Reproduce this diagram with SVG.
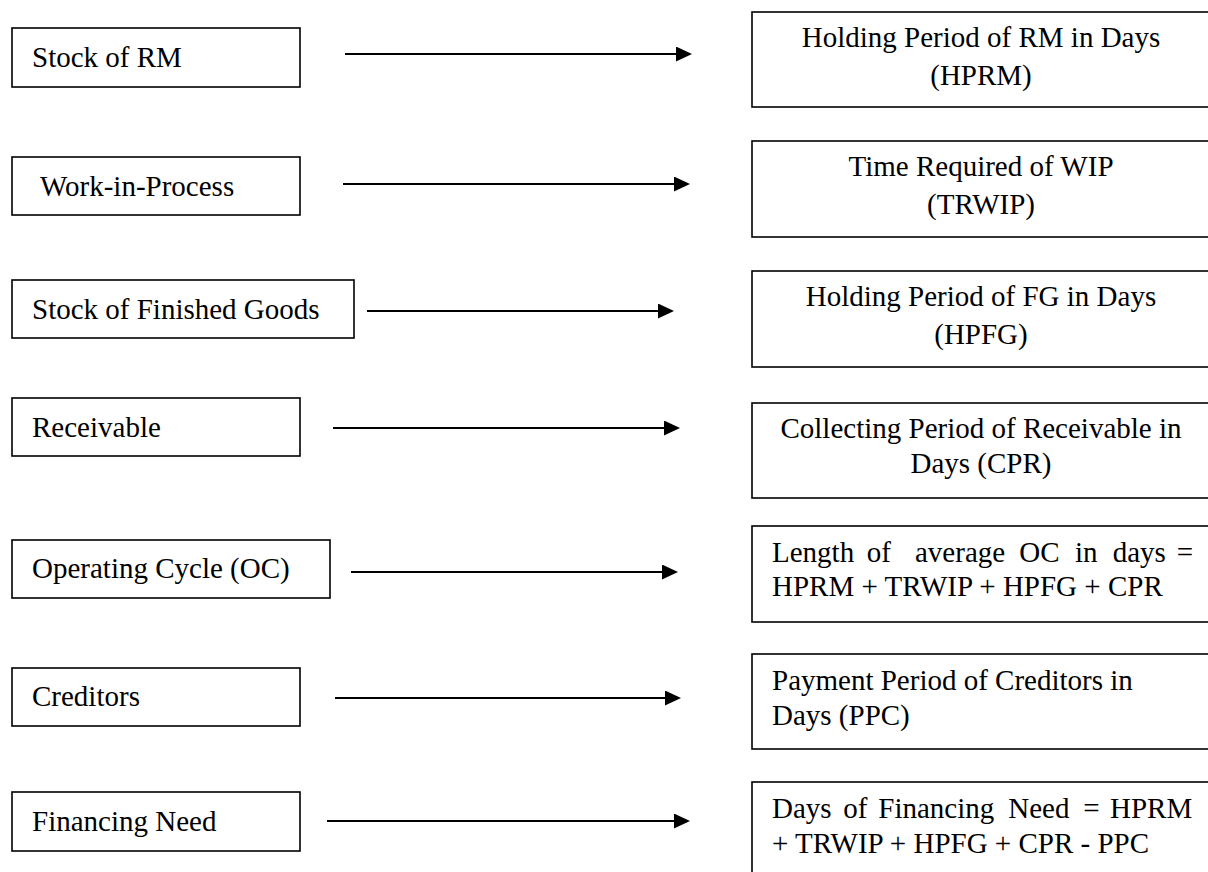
<svg xmlns="http://www.w3.org/2000/svg" width="1208" height="872" viewBox="0 0 1208 872">
  <style>
    .box { fill: #fff; stroke: #000; stroke-width: 1.6; }
    .lbl { font-family: "Liberation Serif", "Times New Roman", serif; font-size: 29px; fill: #000; }
    .mid { text-anchor: middle; }
    .conn { fill: none; stroke: #000; stroke-width: 2; marker-end: url(#head); }
  </style>
  <defs>
    <marker id="head" markerUnits="userSpaceOnUse" markerWidth="16" markerHeight="15" refX="2" refY="7.5" orient="auto">
      <path d="M0,0 L16,7.5 L0,15 Z" fill="#000"/>
    </marker>
  </defs>
  <rect width="1208" height="872" fill="#fff"/>

  <!-- source items (left column) -->
  <g id="stock-rm">
    <rect class="box" x="12" y="28" width="288" height="59"/>
    <text class="lbl" x="32" y="67">Stock of RM</text>
  </g>
  <g id="wip">
    <rect class="box" x="12" y="157" width="288" height="58"/>
    <text class="lbl" x="40" y="196">Work-in-Process</text>
  </g>
  <g id="stock-fg">
    <rect class="box" x="12" y="280" width="342" height="58"/>
    <text class="lbl" x="32" y="319">Stock of Finished Goods</text>
  </g>
  <g id="receivable">
    <rect class="box" x="12" y="398" width="288" height="58"/>
    <text class="lbl" x="32" y="437">Receivable</text>
  </g>
  <g id="operating-cycle">
    <rect class="box" x="12" y="540" width="318" height="58"/>
    <text class="lbl" x="32" y="578">Operating Cycle (OC)</text>
  </g>
  <g id="creditors">
    <rect class="box" x="12" y="668" width="288" height="58"/>
    <text class="lbl" x="32" y="706">Creditors</text>
  </g>
  <g id="financing-need">
    <rect class="box" x="12" y="792" width="288" height="59"/>
    <text class="lbl" x="32" y="831">Financing Need</text>
  </g>

  <!-- connectors -->
  <g id="connectors">
    <path class="conn" d="M345,54 H678"/>
    <path class="conn" d="M343,184 H676"/>
    <path class="conn" d="M367,311 H660"/>
    <path class="conn" d="M333,428 H666"/>
    <path class="conn" d="M351,572 H664"/>
    <path class="conn" d="M335,698 H667"/>
    <path class="conn" d="M327,821 H676"/>
  </g>

  <!-- measures (right column) -->
  <g id="hprm">
    <rect class="box" x="752" y="12" width="462" height="95"/>
    <text class="lbl mid" x="981" y="46.5">Holding Period of RM in Days</text>
    <text class="lbl mid" x="981" y="85">(HPRM)</text>
  </g>
  <g id="trwip">
    <rect class="box" x="752" y="141" width="462" height="96"/>
    <text class="lbl mid" x="981" y="175.5">Time Required of WIP</text>
    <text class="lbl mid" x="981" y="214">(TRWIP)</text>
  </g>
  <g id="hpfg">
    <rect class="box" x="752" y="271" width="462" height="96"/>
    <text class="lbl mid" x="981" y="305.5">Holding Period of FG in Days</text>
    <text class="lbl mid" x="981" y="344">(HPFG)</text>
  </g>
  <g id="cpr">
    <rect class="box" x="752" y="403" width="462" height="95"/>
    <text class="lbl mid" x="981" y="438">Collecting Period of Receivable in</text>
    <text class="lbl mid" x="981" y="472.5">Days (CPR)</text>
  </g>
  <g id="oc-length">
    <rect class="box" x="752" y="526" width="462" height="96"/>
    <text class="lbl" y="561.5"><tspan x="772">Length</tspan><tspan x="866.7">of</tspan><tspan x="915">average</tspan><tspan x="1019.3">OC</tspan><tspan x="1075">in</tspan><tspan x="1112.7">days</tspan><tspan x="1176.7">=</tspan></text>
    <text class="lbl" x="772" y="596">HPRM + TRWIP + HPFG + CPR</text>
  </g>
  <g id="ppc">
    <rect class="box" x="752" y="654" width="462" height="95"/>
    <text class="lbl" x="772" y="690">Payment Period of Creditors in</text>
    <text class="lbl" x="772" y="724.5">Days (PPC)</text>
  </g>
  <g id="financing-days">
    <rect class="box" x="752" y="782" width="462" height="100"/>
    <text class="lbl" y="818"><tspan x="772">Days</tspan><tspan x="843.3">of</tspan><tspan x="878.3">Financing</tspan><tspan x="1008.3">Need</tspan><tspan x="1083.3">=</tspan><tspan x="1110">HPRM</tspan></text>
    <text class="lbl" x="772" y="852.5">+ TRWIP + HPFG + CPR - PPC</text>
  </g>
</svg>
